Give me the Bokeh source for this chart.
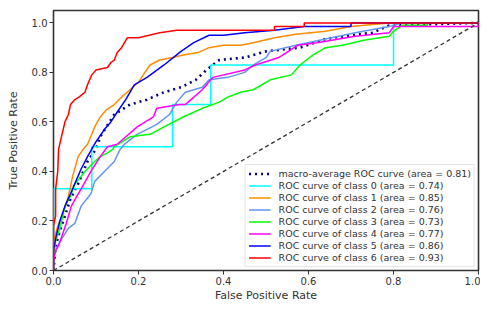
from bokeh.plotting import figure
from bokeh.models import FixedTicker
from bokeh.embed import file_html
from bokeh.resources import INLINE

# ---- data ----
fpr_macro = [0, 0.005, 0.015, 0.027, 0.04, 0.058, 0.08, 0.10, 0.11, 0.143, 0.18, 0.22, 0.26, 0.30, 0.335, 0.36, 0.39, 0.45, 0.50, 0.58, 0.64, 0.70, 0.75, 0.79, 1.0]
tpr_macro = [0, 0.10, 0.16, 0.22, 0.29, 0.35, 0.44, 0.49, 0.54, 0.63, 0.67, 0.69, 0.72, 0.74, 0.77, 0.81, 0.85, 0.86, 0.885, 0.90, 0.935, 0.95, 0.96, 0.99, 1.0]

fpr_0 = [0, 0, 0.09, 0.09, 0.28, 0.28, 0.37, 0.37, 0.80, 0.80, 1.0]
tpr_0 = [0, 0.33, 0.33, 0.50, 0.50, 0.67, 0.67, 0.83, 0.83, 1.0, 1.0]

fpr_1 = [0, 0, 0.01, 0.02, 0.03, 0.035, 0.045, 0.058, 0.07, 0.08, 0.09, 0.097, 0.11, 0.125, 0.143, 0.16, 0.18, 0.20, 0.215, 0.227, 0.25, 0.28, 0.305, 0.34, 0.366, 0.40, 0.44, 0.47, 0.52, 0.57, 0.64, 0.70, 0.79, 1.0]
tpr_1 = [0, 0.12, 0.18, 0.22, 0.27, 0.30, 0.38, 0.46, 0.49, 0.51, 0.55, 0.58, 0.62, 0.65, 0.67, 0.70, 0.73, 0.76, 0.80, 0.83, 0.85, 0.86, 0.87, 0.88, 0.90, 0.91, 0.91, 0.92, 0.94, 0.954, 0.966, 0.985, 1.0, 1.0]

fpr_2 = [0, 0, 0.01, 0.02, 0.035, 0.05, 0.065, 0.088, 0.097, 0.12, 0.143, 0.157, 0.167, 0.197, 0.243, 0.273, 0.29, 0.31, 0.35, 0.366, 0.41, 0.45, 0.47, 0.50, 0.51, 0.57, 0.64, 0.71, 0.79, 0.82, 1.0]
tpr_2 = [0, 0.06, 0.10, 0.13, 0.17, 0.19, 0.26, 0.31, 0.36, 0.40, 0.44, 0.49, 0.51, 0.55, 0.59, 0.63, 0.68, 0.72, 0.74, 0.77, 0.78, 0.80, 0.83, 0.86, 0.885, 0.91, 0.935, 0.96, 0.985, 1.0, 1.0]

fpr_3 = [0, 0, 0.005, 0.015, 0.027, 0.04, 0.05, 0.06, 0.074, 0.085, 0.097, 0.11, 0.127, 0.14, 0.143, 0.18, 0.227, 0.26, 0.305, 0.35, 0.39, 0.41, 0.44, 0.47, 0.51, 0.56, 0.58, 0.61, 0.64, 0.68, 0.73, 0.79, 0.80, 0.82, 0.88, 0.88, 1.0]
tpr_3 = [0, 0.05, 0.12, 0.17, 0.26, 0.30, 0.35, 0.37, 0.40, 0.42, 0.44, 0.46, 0.475, 0.49, 0.50, 0.54, 0.55, 0.58, 0.62, 0.655, 0.68, 0.70, 0.72, 0.73, 0.77, 0.79, 0.83, 0.87, 0.90, 0.91, 0.93, 0.946, 0.966, 0.99, 0.99, 1.0, 1.0]

fpr_4 = [0, 0, 0.005, 0.012, 0.02, 0.03, 0.042, 0.055, 0.065, 0.088, 0.11, 0.127, 0.15, 0.197, 0.235, 0.243, 0.297, 0.31, 0.35, 0.375, 0.45, 0.475, 0.53, 0.575, 0.62, 0.71, 0.79, 0.80, 1.0, 1.0]
tpr_4 = [0, 0.04, 0.08, 0.10, 0.14, 0.19, 0.26, 0.30, 0.33, 0.40, 0.46, 0.50, 0.51, 0.58, 0.62, 0.655, 0.67, 0.67, 0.73, 0.78, 0.81, 0.83, 0.86, 0.91, 0.92, 0.946, 0.96, 0.985, 0.985, 1.0]

fpr_5 = [0, 0, 0.005, 0.015, 0.027, 0.04, 0.05, 0.065, 0.08, 0.09, 0.10, 0.12, 0.135, 0.15, 0.17, 0.19, 0.22, 0.26, 0.30, 0.33, 0.366, 0.40, 0.45, 0.52, 0.59, 0.70, 0.70, 1.0]
tpr_5 = [0, 0.08, 0.13, 0.20, 0.26, 0.31, 0.35, 0.41, 0.46, 0.49, 0.52, 0.57, 0.60, 0.64, 0.69, 0.75, 0.78, 0.83, 0.885, 0.92, 0.95, 0.95, 0.96, 0.97, 0.985, 0.985, 1.0, 1.0]

fpr_6 = [0, 0, 0.005, 0.005, 0.01, 0.012, 0.02, 0.027, 0.035, 0.04, 0.05, 0.06, 0.074, 0.08, 0.09, 0.10, 0.127, 0.135, 0.143, 0.15, 0.16, 0.174, 0.20, 0.25, 0.29, 0.52, 0.52, 0.59, 0.59, 1.0]
tpr_6 = [0, 0.18, 0.22, 0.33, 0.40, 0.49, 0.55, 0.60, 0.63, 0.67, 0.69, 0.70, 0.72, 0.75, 0.79, 0.81, 0.82, 0.84, 0.85, 0.88, 0.90, 0.94, 0.94, 0.96, 0.97, 0.97, 0.985, 0.985, 1.0, 1.0]

diag_x = [0, 1]
diag_y = [0, 1]

class_names = ["0", "1", "2", "3", "4", "5", "6"]
class_auc = [0.74, 0.85, 0.76, 0.73, 0.77, 0.86, 0.93]
macro_auc = 0.81
class_colors = ["aqua", "darkorange", "cornflowerblue", "lime", "magenta", "blue", "red"]

tick_values = [0, 0.2, 0.4, 0.6, 0.8, 1.0]
tick_labels = ["0.0", "0.2", "0.4", "0.6", "0.8", "1.0"]

FONT = "DejaVu Sans"

p = figure(width=480, height=304, x_range=(0, 1), y_range=(0, 1.05),
           output_backend="svg", toolbar_location=None,
           min_border_left=53, min_border_right=2, min_border_top=10, min_border_bottom=30)

p.grid.visible = False
p.outline_line_color = "#333333"
p.outline_line_width = 1.6
p.background_fill_color = "white"
p.border_fill_color = "white"

p.line(fpr_macro, tpr_macro, line_color="navy", line_width=2.6, line_dash="2 4",
       legend_label="macro-average ROC curve (area = %.2f)" % macro_auc)

fprs = [fpr_0, fpr_1, fpr_2, fpr_3, fpr_4, fpr_5, fpr_6]
tprs = [tpr_0, tpr_1, tpr_2, tpr_3, tpr_4, tpr_5, tpr_6]
for name, fx, ty, auc, col in zip(class_names, fprs, tprs, class_auc, class_colors):
    p.line(fx, ty, line_color=col, line_width=1.5,
           legend_label="ROC curve of class %s (area = %.2f)" % (name, auc))

p.line(diag_x, diag_y, line_color="#333333", line_width=1.3, line_dash="4 3")

for ax in (p.xaxis[0], p.yaxis[0]):
    ax.ticker = FixedTicker(ticks=tick_values)
    ax.major_label_overrides = dict(zip(tick_values, tick_labels))
    ax.minor_tick_line_color = None
    ax.major_tick_in = 0
    ax.major_tick_out = 4
    ax.axis_line_color = None
    ax.major_tick_line_color = "#333333"
    ax.major_label_text_font = FONT
    ax.major_label_text_font_size = "10px"
    ax.major_label_text_color = "#333333"
    ax.axis_label_text_font = FONT
    ax.axis_label_text_font_size = "11px"
    ax.axis_label_text_font_style = "normal"
    ax.axis_label_text_color = "#333333"

p.xaxis.axis_label = "False Positive Rate"
p.yaxis.axis_label = "True Positive Rate"
p.xaxis.major_label_standoff = 2
p.xaxis.axis_label_standoff = 1
p.yaxis.major_label_standoff = 2
p.yaxis.axis_label_standoff = 9

lg = p.legend[0]
lg.location = "bottom_right"
lg.label_text_font = FONT
lg.label_text_font_size = "9.5px"
lg.label_text_color = "#333333"
lg.glyph_width = 22
lg.glyph_height = 11
lg.label_height = 11
lg.spacing = 1
lg.padding = 3
lg.margin = 3
lg.label_standoff = 8
lg.border_line_color = "#cccccc"
lg.background_fill_alpha = 0.85

open("out.html", "w").write(file_html(p, INLINE))
